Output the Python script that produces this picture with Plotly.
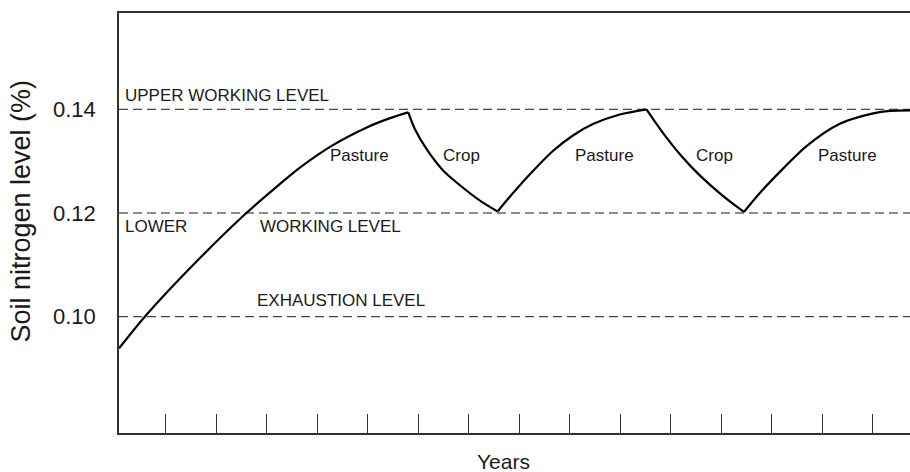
import plotly.graph_objects as go

# ---- data ----
# each growth / depletion phase as its own segment (years, soil N %)
pasture1_x = [0.07, 0.58, 1.58, 2.57, 3.16, 3.66, 4.29, 5.00, 5.44, 5.80]
pasture1_y = [0.0939, 0.1000, 0.1104, 0.1198, 0.1248, 0.1288, 0.1330, 0.1366, 0.1383, 0.1394]
crop1_x = [5.80, 5.93, 6.17, 6.49, 6.83, 7.22, 7.57]
crop1_y = [0.1394, 0.1362, 0.1322, 0.1282, 0.1253, 0.1224, 0.1203]
pasture2_x = [7.57, 7.88, 8.28, 8.67, 9.07, 9.47, 9.99, 10.52]
pasture2_y = [0.1203, 0.1239, 0.1282, 0.1320, 0.1350, 0.1372, 0.1390, 0.1400]
crop2_x = [10.52, 10.71, 10.92, 11.22, 11.58, 12.02, 12.45]
crop2_y = [0.1400, 0.1373, 0.1345, 0.1309, 0.1272, 0.1234, 0.1202]
pasture3_x = [12.45, 12.77, 13.23, 13.69, 14.35, 15.01, 15.34, 15.74]
pasture3_y = [0.1202, 0.1239, 0.1286, 0.1329, 0.1372, 0.1392, 0.1397, 0.1398]

segments = [(pasture1_x, pasture1_y), (crop1_x, crop1_y), (pasture2_x, pasture2_y),
            (crop2_x, crop2_y), (pasture3_x, pasture3_y)]

level_values = [0.10, 0.12, 0.14]
ytick_labels = ["0.10", "0.12", "0.14"]
year_ticks = list(range(1, 16))

phase_labels = ["Pasture", "Crop", "Pasture", "Crop", "Pasture"]
phase_x = [4.84, 6.85, 9.69, 11.86, 14.51]

FONT = "Liberation Sans, Arial, Helvetica, sans-serif"
INK = "#1a1a1a"

fig = go.Figure()

# reference working levels (dashed)
for lv in level_values:
    fig.add_shape(type="line", xref="paper", x0=0, x1=1, yref="y", y0=lv, y1=lv,
                  line=dict(color=INK, width=1, dash="9px,5px"), layer="below")

for sx, sy in segments:
    fig.add_trace(go.Scatter(x=sx, y=sy, mode="lines",
                             line=dict(color="black", width=2.2, shape="spline", smoothing=0.8),
                             showlegend=False, hoverinfo="skip"))

ann = []
def txt(text, x, y, xanchor="left", size=17, xref="x", yref="y", angle=0):
    ann.append(dict(text=text, x=x, y=y, xref=xref, yref=yref, xanchor=xanchor,
                    yanchor="middle", showarrow=False, textangle=angle,
                    font=dict(family=FONT, size=size, color=INK)))

txt("UPPER WORKING LEVEL", 0.155, 0.14257)
txt("LOWER", 0.155, 0.11736)
txt("WORKING LEVEL", 2.817, 0.11736)
txt("EXHAUSTION LEVEL", 2.763, 0.10309)
for lab, xp in zip(phase_labels, phase_x):
    txt(lab, xp, 0.1311, xanchor="center")

# axis titles
txt("Years", 7.682, -0.0675, xanchor="center", size=21, yref="paper")
txt("Soil nitrogen level (%)", -0.124, 0.5295, xanchor="center", size=27,
    xref="paper", yref="paper", angle=-90)

fig.update_layout(
    annotations=ann,
    width=910, height=472,
    margin=dict(l=119, r=0, t=13, b=39),
    paper_bgcolor="white", plot_bgcolor="white",
    font=dict(family=FONT, color=INK),
    xaxis=dict(range=[0.069, 15.74], tickvals=year_ticks, ticktext=[""] * len(year_ticks),
               ticks="inside", ticklen=19, tickwidth=1.2, tickcolor="#333",
               showline=True, linecolor="#333", linewidth=1.5, mirror=True,
               showgrid=False, zeroline=False),
    yaxis=dict(range=[0.07757, 0.15857], tickvals=level_values, ticktext=ytick_labels,
               ticks="", ticklabelstandoff=17, tickfont=dict(size=22, family=FONT, color=INK),
               showline=True, linecolor="#333", linewidth=1.5, mirror=False,
               showgrid=False, zeroline=False),
)

fig.write_html("out.html", config={"displayModeBar": False},
               post_script="document.body.style.margin='0';document.body.style.overflow='hidden';")
